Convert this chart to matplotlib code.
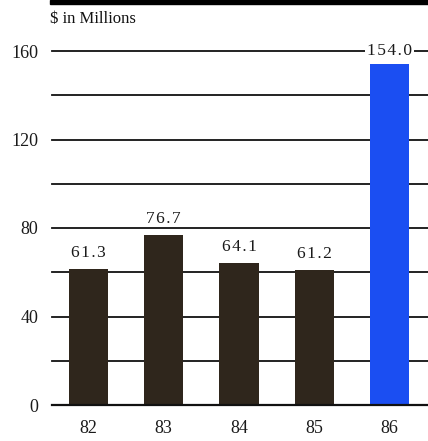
import matplotlib
matplotlib.use("Agg")
import matplotlib.pyplot as plt

years = ["82", "83", "84", "85", "86"]
values = [61.3, 76.7, 64.1, 61.2, 154.0]
colors = ["#2f261c", "#2f261c", "#2f261c", "#2f261c", "#1b4ef2"]
yticks = [0, 40, 80, 120, 160]
grid_vals = [20, 40, 60, 80, 100, 120, 140, 160]
title = "$ in Millions"

W, H = 428, 441
fig = plt.figure(figsize=(W / 100, H / 100), dpi=100)
ax = fig.add_axes([52 / W, 36 / H, (428 - 52) / W, (405 - 51) / H])
ax.set_xlim(-0.485, 4.51)
ax.set_ylim(0, 160)
for s in ax.spines.values():
    s.set_visible(False)

serif = ["Liberation Serif", "DejaVu Serif"]
HS = "\u200a"


def spaced(v):
    return HS.join(f"{v:.1f}")


for g in grid_vals:
    ax.axhline(g, color="#111111", lw=1.3, zorder=1, clip_on=False)
ax.axhline(0, color="#111111", lw=1.6, zorder=3, clip_on=False)

x = list(range(len(years)))
ax.bar(x, values, width=0.52, color=colors, zorder=2)

for i, v in enumerate(values[:-1]):
    ax.text(i, v + 7.2, spaced(v), ha="center", va="center", fontsize=12.5,
            family=serif, color="#1a1a1a")
ax.text(4, 160, spaced(values[-1]), ha="center", va="center", fontsize=12.5,
        family=serif, color="#1a1a1a", zorder=5,
        bbox=dict(facecolor="white", edgecolor="none", pad=1.5))

ax.set_xticks(x)
ax.set_xticklabels(years, family=serif, fontsize=13, color="#1a1a1a")
ax.set_yticks(yticks)
ax.set_yticklabels([str(t) for t in yticks], family=serif, fontsize=13, color="#1a1a1a")
ax.tick_params(axis="both", length=0)
ax.tick_params(axis="y", pad=10)
ax.tick_params(axis="x", pad=11)

# top black band
fig.patches.append(plt.Rectangle((50 / W, 1 - 3.5 / H), 1, 3.5 / H,
                                 transform=fig.transFigure, color="black"))
fig.text(50 / W, 1 - 19 / H, title, ha="left", va="center", fontsize=12,
         family=serif, color="#111111")

fig.savefig("out.png", dpi=100)
